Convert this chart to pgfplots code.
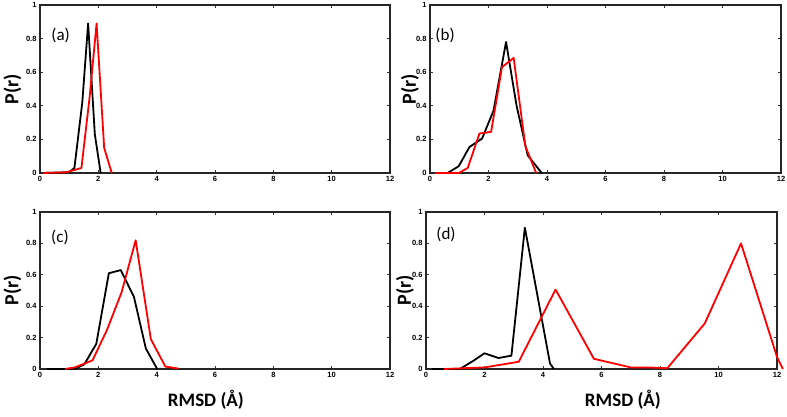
\documentclass[border=0pt]{standalone}
\usepackage{fontspec}
\setmainfont{Carlito}
\newfontfamily\tickfont{Liberation Sans}
\usepackage{pgfplots}
\pgfplotsset{compat=1.18}
\pgfplotsset{
  panel/.style={
    scale only axis,
    anchor=south west,
    xmin=0, xmax=12, ymin=0, ymax=1,
    xtick={0,2,...,12},
    ytick={0,0.2,...,1},
    axis line style={line width=1.3pt, black!85},
    major tick length=3pt,
    tick style={line width=0.6pt, black!80},
    tick label style={font=\tickfont\bfseries\fontsize{7.5}{8.5}\selectfont},
    /pgf/number format/assume math mode=true,
    ylabel={P(r)},
    ylabel style={font=\bfseries\fontsize{20}{22}\selectfont, at={(rel axis cs:0,0.5)}, anchor=center},
    xlabel style={font=\bfseries\fontsize{19}{21}\selectfont, anchor=center},
    clip=false,
  },
  blk/.style={black, line width=1.8pt, line join=round},
  rd/.style={red, line width=1.8pt, line join=round},
}
\begin{document}
\begin{tikzpicture}[x=1pt,y=1pt]
\useasboundingbox (0,0) rectangle (787,417);
% (a)
\begin{axis}[panel, at={(40pt,244pt)}, width=350pt, height=168pt,
  ylabel style={yshift=27.5pt}]
\addplot[blk] coordinates {(0.1,0) (1.0,0.005) (1.18,0.03) (1.45,0.42) (1.65,0.89) (1.88,0.23) (2.08,0)};
\addplot[rd] coordinates {(0.1,0) (0.9,0.004) (1.42,0.03) (1.7,0.45) (1.94,0.89) (2.2,0.15) (2.46,0)};
\node[font=\fontsize{17}{19}\selectfont] at (rel axis cs:0.059,0.818) {(a)};
\end{axis}
% (b)
\begin{axis}[panel, at={(430pt,244pt)}, width=351pt, height=168pt,
  ylabel style={yshift=20pt}]
\addplot[blk] coordinates {(0.17,0) (0.6,0) (0.98,0.04) (1.35,0.155) (1.78,0.205) (2.17,0.37) (2.6,0.78) (2.96,0.40) (3.34,0.105) (3.82,0)};
\addplot[rd] coordinates {(0.17,0) (0.98,0) (1.29,0.03) (1.69,0.235) (2.09,0.245) (2.46,0.63) (2.86,0.685) (3.26,0.16) (3.63,0)};
\node[font=\fontsize{17}{19}\selectfont] at (rel axis cs:0.043,0.818) {(b)};
\end{axis}
% (c)
\begin{axis}[panel, at={(40pt,48pt)}, width=350pt, height=157pt,
  ylabel style={yshift=27.5pt},
  xlabel={RMSD (Å)}, xlabel style={at={(rel axis cs:0.474,0)}, yshift=-31pt}]
\addplot[blk] coordinates {(0.24,0) (1.19,0) (1.52,0.03) (1.93,0.16) (2.36,0.61) (2.77,0.63) (3.22,0.46) (3.63,0.13) (4.02,0)};
\addplot[rd] coordinates {(0.86,0) (1.19,0.01) (1.8,0.055) (2.3,0.25) (2.8,0.49) (3.28,0.82) (3.8,0.19) (4.3,0.015) (4.75,0.003)};
\node[font=\fontsize{17}{19}\selectfont] at (rel axis cs:0.057,0.838) {(c)};
\end{axis}
% (d)
\begin{axis}[panel, at={(426pt,48pt)}, width=351pt, height=157pt,
  ylabel style={yshift=21pt},
  xlabel={RMSD (Å)}, xlabel style={at={(rel axis cs:0.561,0)}, yshift=-31pt}]
\addplot[blk] coordinates {(0.2,0) (0.38,0) (1.16,0) (1.6,0.05) (2.0,0.1) (2.48,0.07) (2.92,0.085) (3.38,0.9) (4.24,0.035) (4.37,0)};
\addplot[rd] coordinates {(0.62,0) (2.0,0.01) (3.17,0.046) (4.43,0.506) (5.74,0.065) (7.0,0.01) (7.6,0.01) (8.25,0.005) (9.53,0.29) (10.77,0.8) (12.0,0.077) (12.2,0)};
\node[font=\fontsize{17}{19}\selectfont] at (rel axis cs:0.057,0.857) {(d)};
\end{axis}
\end{tikzpicture}
\end{document}
